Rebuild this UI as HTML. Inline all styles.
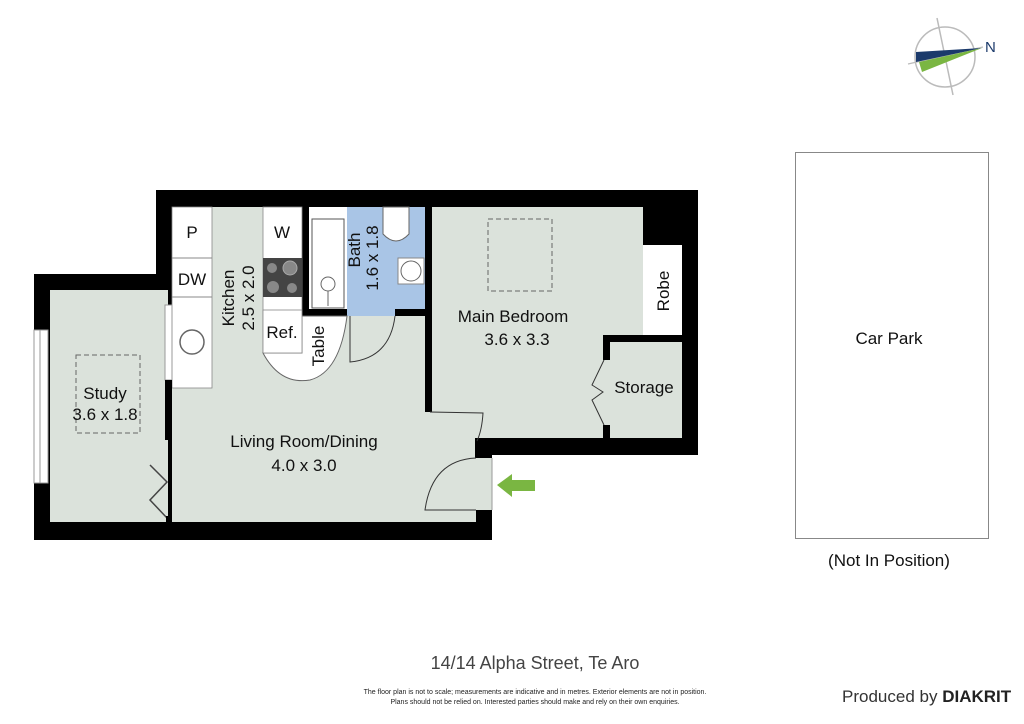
<!DOCTYPE html>
<html><head><style>
body{margin:0;background:#fff;}
svg{display:block;font-family:"Liberation Sans",Arial,sans-serif;}
</style></head><body>
<svg width="1024" height="724" viewBox="0 0 1024 724" xmlns="http://www.w3.org/2000/svg" font-family="Liberation Sans, Arial, sans-serif">
<rect width="1024" height="724" fill="#fff"/>
<!-- compass -->
<circle cx="945" cy="57" r="30" fill="none" stroke="#bbb" stroke-width="1.5"/>
<line x1="937" y1="18" x2="953" y2="95" stroke="#bbb" stroke-width="1.5"/>
<line x1="908" y1="64" x2="983" y2="47" stroke="#bbb" stroke-width="1.2"/>
<polygon points="916,52 982,48 916,62" fill="#1b3a6b"/>
<polygon points="919,62 982,48 922,72" fill="#7ab642"/>
<text x="985" y="52" font-size="15" fill="#1b3a6b">N</text>
<!-- walls envelope -->
<polygon points="156,190 698,190 698,455 492,455 492,540 34,540 34,274 156,274" fill="#000"/>
<!-- study -->
<rect x="50" y="290" width="118" height="232" fill="#dbe2db"/>
<!-- living -->
<rect x="172" y="207" width="304" height="315" fill="#dbe2db"/>
<rect x="476" y="458" width="16" height="52" fill="#dbe2db"/>
<!-- bedroom -->
<rect x="432" y="207" width="211" height="231" fill="#dbe2db"/>
<rect x="643" y="245" width="39" height="90" fill="#fff"/>
<rect x="603" y="335" width="79" height="7" fill="#000"/>
<rect x="603" y="335" width="7" height="25" fill="#000"/>
<rect x="603" y="425" width="7" height="13" fill="#000"/>
<rect x="610" y="342" width="72" height="96" fill="#dbe2db"/>
<polyline points="604,360 592,385 603,392 592,400 604,425" fill="none" stroke="#333" stroke-width="1"/>
<!-- wall between living and bedroom -->
<rect x="425" y="207" width="7" height="205" fill="#000"/>
<rect x="475" y="438" width="17" height="20" fill="#000"/>
<path d="M430,412 L483,413 Q482,430 477,441" fill="none" stroke="#333" stroke-width="1"/>
<!-- entrance door -->
<path d="M476,458 Q432,460 425,510 L476,510" fill="none" stroke="#333" stroke-width="1"/>
<line x1="492" y1="458" x2="492" y2="510" stroke="#999" stroke-width="1"/>
<polygon points="497,485 512,474 512,480 535,480 535,491 512,491 512,497" fill="#7ab642"/>
<!-- bath -->
<rect x="302" y="207" width="7" height="109" fill="#000"/>
<rect x="302" y="309" width="48" height="7" fill="#000"/>
<rect x="395" y="309" width="37" height="7" fill="#000"/>
<rect x="309" y="207" width="38" height="102" fill="#fff"/>
<rect x="347" y="207" width="78" height="102" fill="#a9c5e6"/>
<rect x="347" y="309" width="48" height="7" fill="#a9c5e6"/>
<rect x="312" y="219" width="32" height="89" fill="#fff" stroke="#555" stroke-width="1"/>
<circle cx="328" cy="284" r="7" fill="none" stroke="#666"/>
<line x1="328" y1="291" x2="328" y2="306" stroke="#666"/>
<path d="M383,207 L409,207 L409,234 Q396,248 383,234 Z" fill="#fff" stroke="#666"/>
<rect x="398" y="258" width="26" height="26" fill="#fff" stroke="#888"/>
<circle cx="411" cy="271" r="10" fill="#fff" stroke="#666"/>
<path d="M350,316 L350,362 Q390,358 395,316" fill="none" stroke="#333" stroke-width="1"/>
<!-- kitchen counters -->
<rect x="172" y="207" width="40" height="181" fill="#fff" stroke="#888" stroke-width="0.8"/>
<line x1="172" y1="258" x2="212" y2="258" stroke="#888"/>
<line x1="172" y1="297" x2="212" y2="297" stroke="#888"/>
<circle cx="192" cy="342" r="12" fill="none" stroke="#666" stroke-width="1.5"/>
<rect x="263" y="207" width="39" height="146" fill="#fff" stroke="#888" stroke-width="0.8"/>
<rect x="263" y="258" width="39" height="39" fill="#444"/>
<circle cx="272" cy="268" r="5" fill="#888"/><circle cx="290" cy="268" r="7" fill="#888" stroke="#aaa"/>
<circle cx="273" cy="287" r="6" fill="#888"/><circle cx="292" cy="288" r="5" fill="#888"/>
<path d="M263,353 Q280,385 310,380 Q340,372 347,316 L302,316 L302,353 Z" fill="#fff" stroke="#666" stroke-width="1"/>
<rect x="263" y="310" width="39" height="43" fill="#fff" stroke="#888" stroke-width="0.8"/>
<!-- study windows and door -->
<rect x="165" y="305" width="7" height="75" fill="#fff" stroke="#999"/>
<rect x="165" y="380" width="7" height="60" fill="#000"/>
<rect x="34" y="330" width="14" height="153" fill="#fff" stroke="#999"/>
<line x1="40" y1="330" x2="40" y2="483" stroke="#999"/>
<polyline points="150,465 167,482 150,500 167,518" fill="none" stroke="#444" stroke-width="1.5"/>
<rect x="166" y="516" width="6" height="6" fill="#000"/>
<!-- dashed -->
<rect x="76" y="355" width="64" height="78" fill="none" stroke="#666" stroke-dasharray="5,3"/>
<rect x="488" y="219" width="64" height="72" fill="none" stroke="#666" stroke-dasharray="5,3"/>
<!-- labels -->
<g font-size="17" fill="#111" text-anchor="middle">
<text x="192" y="238">P</text>
<text x="192" y="285">DW</text>
<text x="282" y="238">W</text>
<text x="282" y="338">Ref.</text>
<text x="105" y="399">Study</text>
<text x="105" y="420">3.6 x 1.8</text>
<text x="304" y="447">Living Room/Dining</text>
<text x="304" y="471">4.0 x 3.0</text>
<text x="513" y="322">Main Bedroom</text>
<text x="517" y="345">3.6 x 3.3</text>
<text x="644" y="393">Storage</text>
<text transform="translate(669,291) rotate(-90)">Robe</text>
<text transform="translate(234,298) rotate(-90)">Kitchen</text>
<text transform="translate(254,298) rotate(-90)">2.5 x 2.0</text>
<text transform="translate(360,250) rotate(-90)">Bath</text>
<text transform="translate(378,258) rotate(-90)">1.6 x 1.8</text>
<text transform="translate(324,346) rotate(-90)">Table</text>
</g>
<!-- car park -->
<rect x="795.5" y="152.5" width="193" height="386" fill="#fff" stroke="#888"/>
<text x="889" y="344" font-size="17" text-anchor="middle" fill="#111">Car Park</text>
<text x="889" y="566" font-size="17" text-anchor="middle" fill="#111">(Not In Position)</text>
<!-- footer -->
<text x="535" y="669" font-size="18" text-anchor="middle" fill="#444">14/14 Alpha Street, Te Aro</text>
<text x="535" y="694" font-size="7" text-anchor="middle" fill="#222">The floor plan is not to scale; measurements are indicative and in metres. Exterior elements are not in position.</text>
<text x="535" y="704" font-size="7" text-anchor="middle" fill="#222">Plans should not be relied on. Interested parties should make and rely on their own enquiries.</text>
<text x="842" y="702" font-size="17" fill="#333">Produced by <tspan font-weight="bold" fill="#222">DIAKRIT</tspan></text>
</svg>
</body></html>
